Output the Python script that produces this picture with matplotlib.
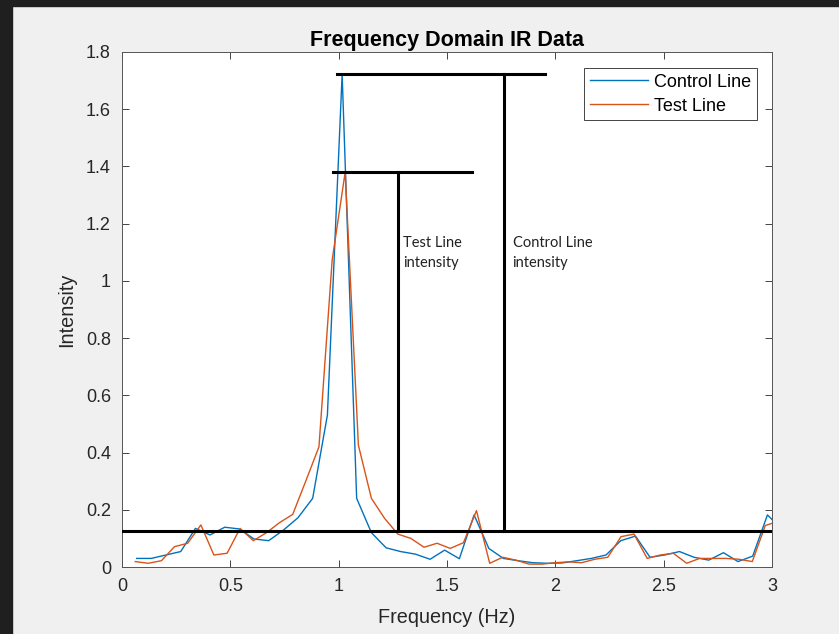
import matplotlib
matplotlib.use('Agg')
import matplotlib.pyplot as plt
from matplotlib.patches import Rectangle

# frequency bins (Hz)
ctrl_freq = [0.068, 0.135, 0.203, 0.271, 0.339, 0.406, 0.474, 0.542, 0.609, 0.677,
             0.745, 0.812, 0.880, 0.948, 1.016, 1.083, 1.151, 1.219, 1.286, 1.354,
             1.422, 1.489, 1.557, 1.625, 1.693, 1.760, 1.828, 1.896, 1.963, 2.031,
             2.099, 2.166, 2.234, 2.302, 2.370, 2.437, 2.505, 2.573, 2.640, 2.708,
             2.776, 2.843, 2.911, 2.979, 3.047]
ctrl_int = [0.030, 0.030, 0.042, 0.054, 0.135, 0.112, 0.139, 0.133, 0.098, 0.092,
            0.129, 0.172, 0.240, 0.531, 1.722, 0.240, 0.120, 0.067, 0.054, 0.045,
            0.027, 0.059, 0.029, 0.182, 0.065, 0.030, 0.022, 0.015, 0.013, 0.014,
            0.022, 0.030, 0.042, 0.092, 0.108, 0.034, 0.042, 0.054, 0.034, 0.024,
            0.050, 0.019, 0.038, 0.182, 0.130]

test_freq = [0.061, 0.121, 0.182, 0.242, 0.303, 0.364, 0.424, 0.485, 0.545, 0.606,
             0.667, 0.727, 0.788, 0.848, 0.909, 0.970, 1.030, 1.091, 1.151, 1.212,
             1.273, 1.333, 1.394, 1.454, 1.515, 1.576, 1.636, 1.697, 1.757, 1.818,
             1.879, 1.939, 2.000, 2.060, 2.121, 2.182, 2.242, 2.303, 2.363, 2.424,
             2.485, 2.545, 2.606, 2.666, 2.727, 2.788, 2.848, 2.909, 2.969, 3.030]
test_int = [0.019, 0.013, 0.022, 0.071, 0.083, 0.147, 0.042, 0.048, 0.135, 0.092,
            0.120, 0.155, 0.184, 0.300, 0.420, 1.073, 1.380, 0.426, 0.240, 0.170,
            0.115, 0.100, 0.069, 0.083, 0.065, 0.085, 0.197, 0.013, 0.034, 0.024,
            0.010, 0.010, 0.015, 0.018, 0.015, 0.027, 0.034, 0.106, 0.115, 0.030,
            0.042, 0.048, 0.013, 0.030, 0.030, 0.030, 0.027, 0.019, 0.145, 0.160]

# annotation levels
baseline = 0.126
ctrl_peak = 1.722
test_peak = 1.380
ctrl_mark_x = 1.763
test_mark_x = 1.272

xticks = [0, 0.5, 1, 1.5, 2, 2.5, 3]
xticklabels = ['0', '0.5', '1', '1.5', '2', '2.5', '3']
yticks = [0, 0.2, 0.4, 0.6, 0.8, 1, 1.2, 1.4, 1.6, 1.8]
yticklabels = ['0', '0.2', '0.4', '0.6', '0.8', '1', '1.2', '1.4', '1.6', '1.8']

plt.rcParams['font.family'] = ['Liberation Sans', 'DejaVu Sans']
dark = '#262626'

fig = plt.figure(figsize=(8.39, 6.34), dpi=100)
fig.patch.set_facecolor('#f0f0f0')
# dark window frame on top and left
fig.patches.append(Rectangle((0, 0), 12 / 839, 1, transform=fig.transFigure,
                             color='#1f1f1f', zorder=-1))
fig.patches.append(Rectangle((0, 628 / 634), 1, 6 / 634, transform=fig.transFigure,
                             color='#1f1f1f', zorder=-1))

ax = fig.add_axes([122 / 839, 67 / 634, 650 / 839, 515 / 634])
ax.set_facecolor('white')

ax.plot(ctrl_freq, ctrl_int, color='#0072BD', lw=1.0, label='Control Line')
ax.plot(test_freq, test_int, color='#D95319', lw=1.0, label='Test Line')

# hand drawn style intensity markers
ax.plot([0, 3], [baseline, baseline], color='black', lw=2.2, zorder=3)
ax.plot([0.994, 1.953], [ctrl_peak, ctrl_peak], color='black', lw=2.2, zorder=3)
ax.plot([ctrl_mark_x, ctrl_mark_x], [baseline, ctrl_peak], color='black', lw=2.2, zorder=3)
ax.plot([0.972, 1.614], [test_peak, test_peak], color='black', lw=2.2, zorder=3)
ax.plot([test_mark_x, test_mark_x], [baseline, test_peak], color='black', lw=2.2, zorder=3)

ax.text(1.298, 1.158, 'Test Line\nintensity', fontsize=10.5, family=['Lato', 'DejaVu Sans'],
        va='top', ha='left', linespacing=1.55, color='#222222')
ax.text(1.803, 1.158, 'Control Line\nintensity', fontsize=10.5, family=['Lato', 'DejaVu Sans'],
        va='top', ha='left', linespacing=1.55, color='#222222')

ax.set_xlim(0, 3)
ax.set_ylim(0, 1.8)
ax.set_xticks(xticks)
ax.set_xticklabels(xticklabels)
ax.set_yticks(yticks)
ax.set_yticklabels(yticklabels)
ax.tick_params(direction='in', length=5, width=0.6, colors=dark, labelsize=13,
               top=True, right=True)
ax.tick_params(axis='x', pad=8)
ax.tick_params(axis='y', pad=8)
for s in ax.spines.values():
    s.set_color('#555555')
    s.set_linewidth(0.7)

ax.set_title('Frequency Domain IR Data', fontsize=15.5, fontweight='bold', pad=4)
ax.set_xlabel('Frequency (Hz)', fontsize=14.3, color=dark, labelpad=9)
ax.set_ylabel('Intensity', fontsize=14.3, color=dark, labelpad=7)

leg = ax.legend(loc='upper right', bbox_to_anchor=(0.977, 0.969), borderaxespad=0,
                fontsize=13, handlelength=3.2, handletextpad=0.35, labelspacing=0.38,
                borderpad=0.32, fancybox=False, framealpha=1)
leg.get_frame().set_edgecolor(dark)
leg.get_frame().set_linewidth(0.6)
for t in leg.get_texts():
    t.set_color('black')

plt.savefig('out.png', dpi=100, facecolor=fig.get_facecolor())
